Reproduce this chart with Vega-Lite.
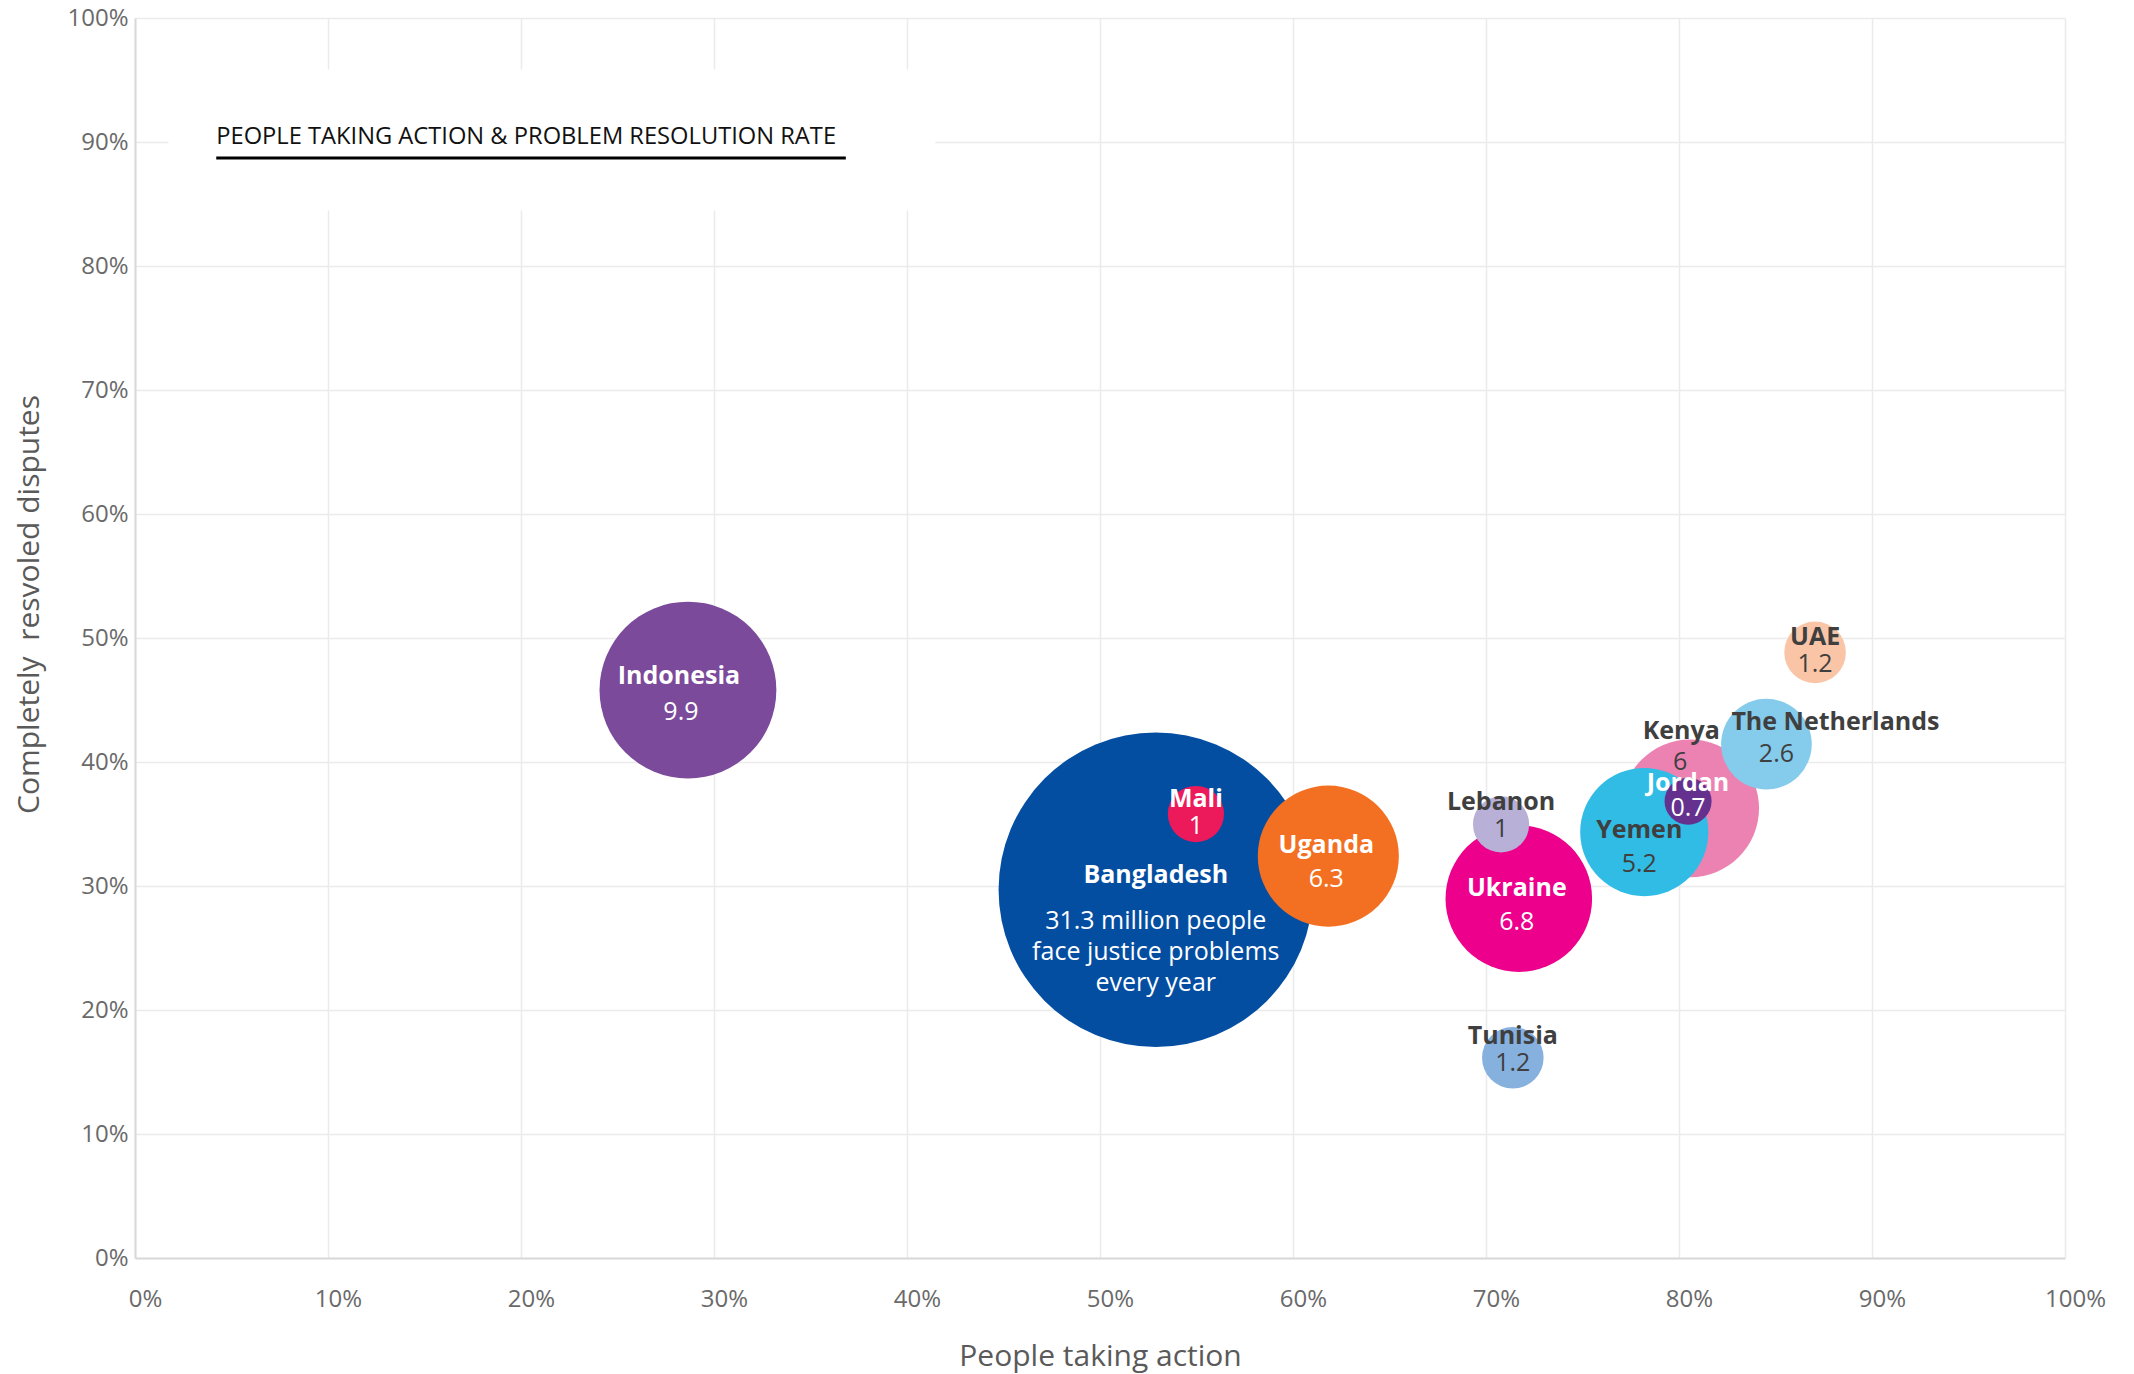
{
  "$schema": "https://vega.github.io/schema/vega-lite/v6.json",
  "autosize": "none",
  "width": 1930,
  "height": 1240,
  "padding": {"left": 135, "top": 18, "right": 69, "bottom": 116},
  "background": "white",
  "config": {
    "font": "Open Sans",
    "view": {"stroke": null},
    "axis": {
      "grid": true,
      "gridColor": "#ebebeb",
      "gridWidth": 1.5,
      "domainColor": "#d9d9d9",
      "domainWidth": 2,
      "ticks": false,
      "tickSize": 0,
      "labelFontSize": 24,
      "labelColor": "#6a6a6a",
      "labelFont": "Open Sans",
      "titleFont": "Open Sans",
      "titleFontSize": 30,
      "titleFontWeight": "normal",
      "titleColor": "#5a5a5a",
      "labelFlush": false,
      "labelOverlap": false
    }
  },
  "datasets": {
    "countries": [
      {"country": "Indonesia", "action": 0.2865, "resolved": 0.458, "people": 9.9},
      {"country": "Bangladesh", "action": 0.5289, "resolved": 0.297, "people": 31.3, "note": "31.3 million people\nface justice problems\nevery year"},
      {"country": "Mali", "action": 0.5497, "resolved": 0.358, "people": 1},
      {"country": "Uganda", "action": 0.6183, "resolved": 0.3241, "people": 6.3},
      {"country": "Ukraine", "action": 0.717, "resolved": 0.2898, "people": 6.8},
      {"country": "Lebanon", "action": 0.7078, "resolved": 0.3497, "people": 1},
      {"country": "Tunisia", "action": 0.7139, "resolved": 0.1615, "people": 1.2},
      {"country": "Kenya", "action": 0.8058, "resolved": 0.3626, "people": 6},
      {"country": "Yemen", "action": 0.782, "resolved": 0.3435, "people": 5.2},
      {"country": "Jordan", "action": 0.8047, "resolved": 0.3684, "people": 0.7},
      {"country": "The Netherlands", "action": 0.8453, "resolved": 0.4144, "people": 2.6},
      {"country": "UAE", "action": 0.8705, "resolved": 0.4884, "people": 1.2}
    ],
    "heading": [
      {"label": "PEOPLE TAKING ACTION & PROBLEM RESOLUTION RATE"}
    ]
  },
  "layer": [
    {
      "data": {"name": "countries"},
      "encoding": {
        "x": {
          "field": "action",
          "type": "quantitative",
          "scale": {"domain": [0, 1], "nice": false, "zero": true},
          "axis": {"title": "People taking action", "format": ".0%", "values": [0, 0.1, 0.2, 0.3, 0.4, 0.5, 0.6, 0.7, 0.8, 0.9, 1], "labelPadding": 29, "labelOffset": 10, "titlePadding": 30}
        },
        "y": {
          "field": "resolved",
          "type": "quantitative",
          "scale": {"domain": [0, 1], "nice": false, "zero": true},
          "axis": {"title": "Completely\u00a0 resvoled disputes", "format": ".0%", "values": [0, 0.1, 0.2, 0.3, 0.4, 0.5, 0.6, 0.7, 0.8, 0.9, 1], "labelPadding": 7, "titlePadding": 22, "titleY": 586}
        }
      },
      "layer": [
        {
          "mark": {"type": "circle", "opacity": 1, "strokeWidth": 0},
          "encoding": {
            "size": {"field": "people", "type": "quantitative", "scale": {"domain": [0, 10], "range": [0, 31584]}, "legend": null},
            "color": {
              "field": "country",
              "type": "nominal",
              "scale": {
                "domain": ["Indonesia", "Bangladesh", "Mali", "Uganda", "Ukraine", "Lebanon", "Tunisia", "Kenya", "Yemen", "Jordan", "The Netherlands", "UAE"],
                "range": ["#7B4A9B", "#044EA2", "#EC1A5B", "#F37022", "#EC008C", "#B8B0D6", "#86B1DF", "#EC82B2", "#31BCE6", "#65318F", "#85CBEB", "#FAC5A6"]
              },
              "legend": null
            }
          }
        },
        {
          "transform": [{"filter": {"field": "country", "equal": "Indonesia"}}],
          "mark": {"type": "text", "fontWeight": "bold", "fontSize": 25, "baseline": "middle", "align": "center", "dy": -14, "dx": -9},
          "encoding": {"text": {"field": "country"}, "color": {"value": "white"}}
        },
        {
          "transform": [{"filter": {"field": "country", "equal": "Indonesia"}}],
          "mark": {"type": "text", "fontSize": 25, "baseline": "middle", "align": "center", "dy": 22, "dx": -7},
          "encoding": {"text": {"field": "people", "type": "quantitative", "format": "~g"}, "color": {"value": "white"}}
        },
        {
          "transform": [{"filter": {"field": "country", "oneOf": ["Uganda", "Ukraine"]}}],
          "mark": {"type": "text", "fontWeight": "bold", "fontSize": 25, "baseline": "middle", "align": "center", "dy": -11, "dx": -2},
          "encoding": {"text": {"field": "country"}, "color": {"value": "white"}}
        },
        {
          "transform": [{"filter": {"field": "country", "oneOf": ["Uganda", "Ukraine"]}}],
          "mark": {"type": "text", "fontSize": 25, "baseline": "middle", "align": "center", "dy": 23, "dx": -2},
          "encoding": {"text": {"field": "people", "type": "quantitative", "format": "~g"}, "color": {"value": "white"}}
        },
        {
          "transform": [{"filter": {"field": "country", "oneOf": ["Mali", "UAE", "Bangladesh"]}}],
          "mark": {"type": "text", "fontWeight": "bold", "fontSize": 25, "baseline": "middle", "align": "center", "dy": -15},
          "encoding": {"text": {"field": "country"}, "color": {"condition": {"test": "indexof(['Indonesia','Bangladesh','Mali','Uganda','Ukraine','Jordan'], datum.country) >= 0", "value": "white"}, "value": "#3f3f3f"}}
        },
        {
          "transform": [{"filter": {"field": "country", "oneOf": ["Mali", "UAE"]}}],
          "mark": {"type": "text", "fontSize": 25, "baseline": "middle", "align": "center", "dy": 12},
          "encoding": {"text": {"field": "people", "type": "quantitative", "format": "~g"}, "color": {"condition": {"test": "indexof(['Indonesia','Bangladesh','Mali','Uganda','Ukraine','Jordan'], datum.country) >= 0", "value": "white"}, "value": "#3f3f3f"}}
        },
        {
          "transform": [{"filter": {"field": "country", "oneOf": ["Lebanon", "Tunisia"]}}],
          "mark": {"type": "text", "fontWeight": "bold", "fontSize": 25, "baseline": "middle", "align": "center", "dy": -22},
          "encoding": {"text": {"field": "country"}, "color": {"value": "#3f3f3f"}}
        },
        {
          "transform": [{"filter": {"field": "country", "oneOf": ["Lebanon", "Tunisia"]}}],
          "mark": {"type": "text", "fontSize": 25, "baseline": "middle", "align": "center", "dy": 5},
          "encoding": {"text": {"field": "people", "type": "quantitative", "format": "~g"}, "color": {"value": "#3f3f3f"}}
        },
        {
          "transform": [{"filter": {"field": "country", "equal": "Jordan"}}],
          "mark": {"type": "text", "fontWeight": "bold", "fontSize": 25, "baseline": "middle", "align": "center", "dy": -18},
          "encoding": {"text": {"field": "country"}, "color": {"value": "white"}}
        },
        {
          "transform": [{"filter": {"field": "country", "equal": "Jordan"}}],
          "mark": {"type": "text", "fontSize": 25, "baseline": "middle", "align": "center", "dy": 7},
          "encoding": {"text": {"field": "people", "type": "quantitative", "format": "~g"}, "color": {"value": "white"}}
        },
        {
          "transform": [{"filter": {"field": "country", "equal": "Yemen"}}],
          "mark": {"type": "text", "fontWeight": "bold", "fontSize": 25, "baseline": "middle", "align": "center", "dy": -2, "dx": -5},
          "encoding": {"text": {"field": "country"}, "color": {"value": "#3f3f3f"}}
        },
        {
          "transform": [{"filter": {"field": "country", "equal": "Yemen"}}],
          "mark": {"type": "text", "fontSize": 25, "baseline": "middle", "align": "center", "dy": 32, "dx": -5},
          "encoding": {"text": {"field": "people", "type": "quantitative", "format": "~g"}, "color": {"value": "#3f3f3f"}}
        },
        {
          "transform": [{"filter": {"field": "country", "equal": "Kenya"}}],
          "mark": {"type": "text", "fontWeight": "bold", "fontSize": 25, "baseline": "middle", "align": "center", "dy": -77, "dx": -9},
          "encoding": {"text": {"field": "country"}, "color": {"value": "#3f3f3f"}}
        },
        {
          "transform": [{"filter": {"field": "country", "equal": "Kenya"}}],
          "mark": {"type": "text", "fontSize": 25, "baseline": "middle", "align": "center", "dy": -46, "dx": -10},
          "encoding": {"text": {"field": "people", "type": "quantitative", "format": "~g"}, "color": {"value": "#3f3f3f"}}
        },
        {
          "transform": [{"filter": {"field": "country", "equal": "The Netherlands"}}],
          "mark": {"type": "text", "fontWeight": "bold", "fontSize": 25, "baseline": "middle", "align": "center", "dy": -22, "dx": 69},
          "encoding": {"text": {"field": "country"}, "color": {"value": "#3f3f3f"}}
        },
        {
          "transform": [{"filter": {"field": "country", "equal": "The Netherlands"}}],
          "mark": {"type": "text", "fontSize": 25, "baseline": "middle", "align": "center", "dy": 10, "dx": 10},
          "encoding": {"text": {"field": "people", "type": "quantitative", "format": "~g"}, "color": {"value": "#3f3f3f"}}
        },
        {
          "transform": [{"filter": {"field": "country", "equal": "Bangladesh"}}],
          "mark": {"type": "text", "fontSize": 25, "baseline": "middle", "align": "center", "dy": 31, "lineBreak": "\n", "lineHeight": 31},
          "encoding": {"text": {"field": "note"}, "color": {"value": "white"}}
        }
      ]
    },
    {
      "data": {"name": "heading"},
      "mark": {"type": "rect", "fill": "white"},
      "encoding": {
        "x": {"datum": 0.0173, "type": "quantitative"},
        "x2": {"datum": 0.4146},
        "y": {"datum": 0.9585, "type": "quantitative"},
        "y2": {"datum": 0.8448}
      }
    },
    {
      "data": {"name": "heading"},
      "mark": {"type": "text", "align": "left", "baseline": "middle", "fontSize": 23.7, "color": "#111111", "font": "Open Sans"},
      "encoding": {
        "text": {"field": "label"},
        "x": {"datum": 0.0421, "type": "quantitative"},
        "y": {"datum": 0.9037, "type": "quantitative"}
      }
    },
    {
      "data": {"name": "heading"},
      "mark": {"type": "rule", "color": "#000000", "strokeWidth": 3},
      "encoding": {
        "x": {"datum": 0.0421, "type": "quantitative"},
        "x2": {"datum": 0.3683},
        "y": {"datum": 0.887, "type": "quantitative"}
      }
    }
  ]
}
